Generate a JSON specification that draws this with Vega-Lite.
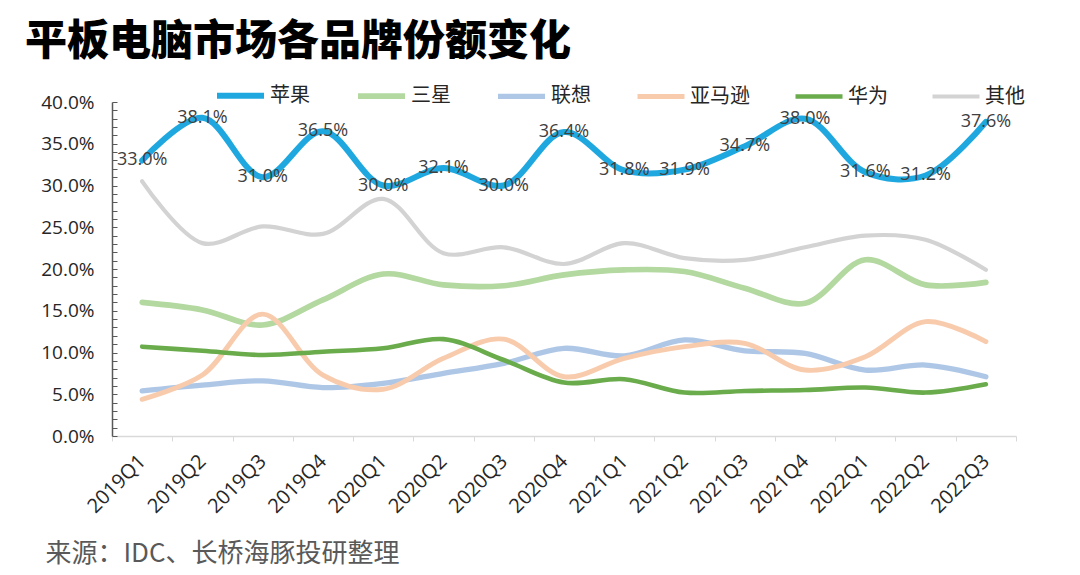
{
  "$schema": "https://vega.github.io/schema/vega-lite/v6.json",
  "autosize": "none",
  "padding": {"left": 112, "top": 102, "right": 64, "bottom": 139},
  "width": 904,
  "height": 334,
  "background": "white",
  "title": {
    "text": "平板电脑市场各品牌份额变化",
    "anchor": "start",
    "frame": "group",
    "dx": -87,
    "offset": 5,
    "font": "Noto Sans CJK SC",
    "fontSize": 42,
    "fontWeight": 900,
    "color": "#000000"
  },
  "data": {
    "values": [
      {"q": "2019Q1", "苹果": 0.330, "三星": 0.160, "联想": 0.054, "亚马逊": 0.044, "华为": 0.107, "其他": 0.305},
      {"q": "2019Q2", "苹果": 0.381, "三星": 0.151, "联想": 0.061, "亚马逊": 0.073, "华为": 0.102, "其他": 0.231},
      {"q": "2019Q3", "苹果": 0.310, "三星": 0.133, "联想": 0.066, "亚马逊": 0.146, "华为": 0.097, "其他": 0.251},
      {"q": "2019Q4", "苹果": 0.365, "三星": 0.163, "联想": 0.058, "亚马逊": 0.073, "华为": 0.101, "其他": 0.242},
      {"q": "2020Q1", "苹果": 0.300, "三星": 0.194, "联想": 0.063, "亚马逊": 0.056, "华为": 0.105, "其他": 0.284},
      {"q": "2020Q2", "苹果": 0.321, "三星": 0.181, "联想": 0.075, "亚马逊": 0.093, "华为": 0.116, "其他": 0.219},
      {"q": "2020Q3", "苹果": 0.300, "三星": 0.180, "联想": 0.087, "亚马逊": 0.116, "华为": 0.091, "其他": 0.226},
      {"q": "2020Q4", "苹果": 0.364, "三星": 0.193, "联想": 0.105, "亚马逊": 0.071, "华为": 0.064, "其他": 0.206},
      {"q": "2021Q1", "苹果": 0.318, "三星": 0.199, "联想": 0.096, "亚马逊": 0.093, "华为": 0.068, "其他": 0.231},
      {"q": "2021Q2", "苹果": 0.319, "三星": 0.197, "联想": 0.115, "亚马逊": 0.107, "华为": 0.052, "其他": 0.213},
      {"q": "2021Q3", "苹果": 0.347, "三星": 0.177, "联想": 0.102, "亚马逊": 0.111, "华为": 0.054, "其他": 0.211},
      {"q": "2021Q4", "苹果": 0.380, "三星": 0.159, "联想": 0.099, "亚马逊": 0.079, "华为": 0.055, "其他": 0.226},
      {"q": "2022Q1", "苹果": 0.316, "三星": 0.211, "联想": 0.079, "亚马逊": 0.095, "华为": 0.058, "其他": 0.240},
      {"q": "2022Q2", "苹果": 0.312, "三星": 0.181, "联想": 0.085, "亚马逊": 0.137, "华为": 0.052, "其他": 0.235},
      {"q": "2022Q3", "苹果": 0.376, "三星": 0.184, "联想": 0.071, "亚马逊": 0.113, "华为": 0.062, "其他": 0.199}
    ]
  },
  "transform": [
    {"fold": ["苹果", "三星", "联想", "亚马逊", "华为", "其他"], "as": ["brand", "v"]}
  ],
  "encoding": {
    "x": {
      "field": "q",
      "type": "ordinal",
      "bandPosition": 0.5,
      "scale": {"type": "band", "paddingInner": 0, "paddingOuter": 0},
      "axis": {
        "title": "来源：IDC、长桥海豚投研整理",
        "titleX": -67,
        "titleY": 117,
        "titleAlign": "left",
        "titleAnchor": null,
        "titleBaseline": "middle",
        "titleAngle": 0,
        "titleFont": "Noto Sans CJK SC",
        "titleFontSize": 26,
        "titleFontWeight": "normal",
        "titleColor": "#595959",
        "labelAngle": -45,
        "labelAlign": "right",
        "labelBaseline": "middle",
        "labelPadding": 17,
        "labelFont": "Open Sans",
        "labelFontSize": 20,
        "labelColor": "#262626",
        "tickBand": "extent",
        "tickSize": 5,
        "tickColor": "#d9d9d9",
        "domainColor": "#d9d9d9",
        "domainWidth": 1.5,
        "grid": false
      }
    },
    "y": {
      "field": "v",
      "type": "quantitative",
      "scale": {"domain": [0, 0.4], "nice": false},
      "axis": {
        "title": null,
        "values": [0, 0.01, 0.02, 0.03, 0.04, 0.05, 0.06, 0.07, 0.08, 0.09, 0.1, 0.11, 0.12, 0.13, 0.14, 0.15, 0.16, 0.17, 0.18, 0.19, 0.2, 0.21, 0.22, 0.23, 0.24, 0.25, 0.26, 0.27, 0.28, 0.29, 0.3, 0.31, 0.32, 0.33, 0.34, 0.35, 0.36, 0.37, 0.38, 0.39, 0.4],
        "labelExpr": "round(datum.value * 100) % 5 == 0 ? format(datum.value, '.1%') : ''",
        "labelFont": "Open Sans",
        "labelFontSize": 19,
        "labelColor": "#262626",
        "labelPadding": 23,
        "tickSize": -5,
        "tickColor": "#595959",
        "domainColor": "#595959",
        "domainWidth": 1.5,
        "grid": false
      }
    }
  },
  "layer": [
    {
      "mark": {"type": "line", "interpolate": "catmull-rom", "strokeCap": "round"},
      "encoding": {
        "color": {
          "field": "brand",
          "type": "nominal",
          "scale": {
            "domain": ["苹果", "三星", "联想", "亚马逊", "华为", "其他"],
            "range": ["#1fa8df", "#b3d8a0", "#aec7e6", "#f8cbad", "#6aab4c", "#d3d3d3"]
          },
          "legend": {
            "title": null,
            "orient": "none",
            "legendX": 102,
            "legendY": -33,
            "direction": "horizontal",
            "symbolType": "stroke",
            "symbolSize": 2209,
            "symbolStrokeWidth": 5.5,
            "labelOffset": 3,
            "columnPadding": 36,
            "labelFont": "Noto Sans CJK SC",
            "labelFontSize": 20,
            "labelColor": "#262626"
          }
        },
        "strokeWidth": {
          "field": "brand",
          "type": "nominal",
          "scale": {
            "domain": ["苹果", "三星", "联想", "亚马逊", "华为", "其他"],
            "range": [6, 4.2, 4.2, 4.2, 5, 4.2]
          },
          "legend": null
        },
        "order": {"field": "q"}
      }
    },
    {
      "transform": [{"filter": "datum.brand == '苹果'"}],
      "mark": {
        "type": "text",
        "font": "Open Sans",
        "fontSize": 18,
        "color": "#404040",
        "align": "center",
        "baseline": "middle"
      },
      "encoding": {
        "text": {"field": "v", "type": "quantitative", "format": ".1%"}
      }
    }
  ],
  "config": {
    "view": {"stroke": null}
  }
}
